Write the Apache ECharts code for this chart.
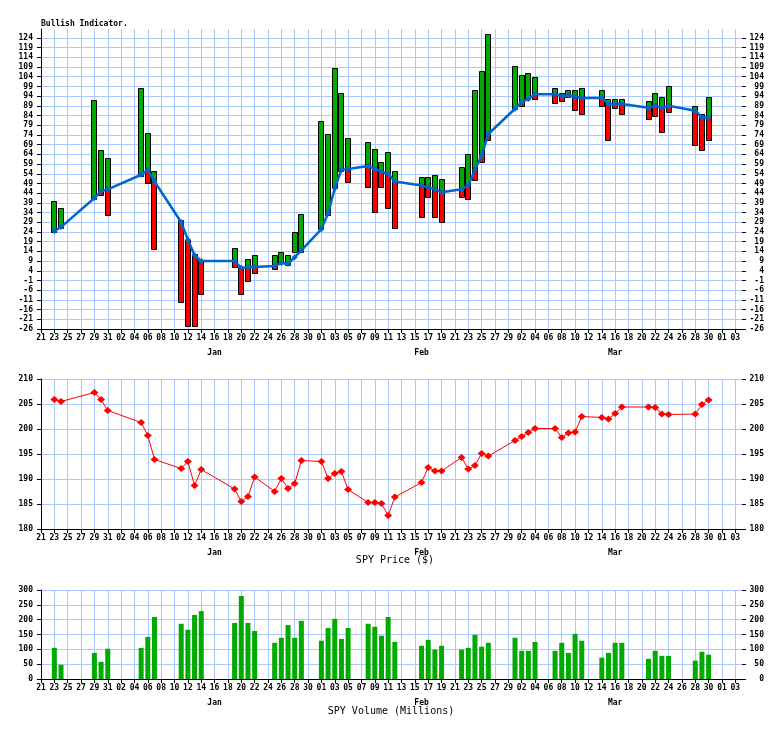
<!DOCTYPE html>
<html><head><meta charset="utf-8">
<script src="https://cdn.jsdelivr.net/npm/echarts@6/dist/echarts.min.js"></script>
<style>html,body{margin:0;padding:0;background:#fff}#c{width:784px;height:729px}</style>
</head><body><div id="c"></div>
<script>
// ---- data ----
const dates = [
 '2015-12-23','2015-12-24','2015-12-29','2015-12-30','2015-12-31',
 '2016-01-05','2016-01-06','2016-01-07','2016-01-11','2016-01-12','2016-01-13','2016-01-14',
 '2016-01-19','2016-01-20','2016-01-21','2016-01-22','2016-01-25','2016-01-26','2016-01-27','2016-01-28','2016-01-29',
 '2016-02-01','2016-02-02','2016-02-03','2016-02-04','2016-02-05','2016-02-08','2016-02-09','2016-02-10','2016-02-11','2016-02-12',
 '2016-02-16','2016-02-17','2016-02-18','2016-02-19','2016-02-22','2016-02-23','2016-02-24','2016-02-25','2016-02-26',
 '2016-03-01','2016-03-02','2016-03-03','2016-03-04','2016-03-07','2016-03-08','2016-03-09','2016-03-10','2016-03-11',
 '2016-03-14','2016-03-15','2016-03-16','2016-03-17','2016-03-21','2016-03-22','2016-03-23','2016-03-24',
 '2016-03-28','2016-03-29','2016-03-30'];
const bullHigh = [40,36.5,92,66,62, 98,75,55.5,30,20,12.5,9.3, 15.5,6,10,12,12,13.5,12,24,33.5,
 81,74.5,108.5,95.5,72.5,70.5,67,60,65,55.5, 52.5,52.5,53.5,51.5,57.5,64,97,107,126,
 109.5,105,106,104,98,95.5,97,97,98, 97,92.5,92.5,92.5,91.5,95.5,93.5,99, 89,85,93.5];
const bullLow = [24,26,41,43,32.5, 53,49,15,-12,-24.5,-24.5,-8, 6,-8,-1.5,3,5,8,7,13.5,13.5,
 25.5,32.5,46.5,55.5,50,47,34.5,47,36.5,26, 31.5,42,31.5,29,42,41,51,60,71.5,
 87.5,89,92.5,92.5,90.5,91.5,93.5,87,85, 89,71.5,88,85,82,84,75.5,86, 69,66,71.5];
const bullLine = [24.5,26.5,41.5,45,46, 53.5,56,50,29,20,12,9, 9,5.5,6,6,6.5,8,7.5,11,14.5,
 25.5,33.5,46.5,56,56.5,58,56.5,55,54,50, 48,47,46,44.5,46,48,56,63.5,74.5,
 87.5,91,92.5,95,95,94,94.5,93.5,93, 93,90,90,90,88,89,88,89, 86.5,83,83];
const spyPrice = [205.9,205.5,207.3,205.9,203.7, 201.3,198.7,193.9,192.1,193.5,188.7,191.9,
 188.0,185.5,186.5,190.4,187.5,190.1,188.1,189.1,193.7,
 193.5,190.1,191.1,191.5,187.9,185.3,185.3,185.1,182.7,186.4,
 189.3,192.3,191.6,191.6,194.3,192.0,192.7,195.1,194.6,
 197.7,198.5,199.3,200.1,200.1,198.3,199.2,199.4,202.5,
 202.3,202.0,203.1,204.4,204.4,204.3,203.0,202.9, 203.0,204.9,205.8];
const spyVolume = [105,48,88,58,102, 105,142,209,186,166,216,229, 189,280,189,162,122,139,182,139,196,
 129,172,203,135,172,186,176,146,209,125, 112,132,99,112,99,105,149,109,122,
 139,95,95,125,95,122,88,152,129, 72,88,122,122,68,95,78,78, 62,92,82];
const monthNames = ['Jan','Feb','Mar'];
const monthLabelDates = ['2016-01-16','2016-02-16','2016-03-16'];
const bullTicks = {min:-26, max:128.6, interval:5};
const priceTicks = {min:180, max:210, interval:5};
const volTicks = {min:0, max:300, interval:50};

// ---- helpers ----
const BASE = Date.UTC(2015, 11, 21);
const dayIndex = s => { const p = s.split('-').map(Number); return (Date.UTC(p[0], p[1]-1, p[2]) - BASE) / 86400000; };
const xs = dates.map(dayIndex);
const FONT = 'DejaVu Sans Mono';
const GRID = '#aac8ff';
const GREEN = '#00aa00', RED = '#ff0000', BLUE = '#0066cc';

function xLabel(v) {
  if (v > 104 || v % 2) return '';
  const d = new Date(BASE + v * 86400000);
  return String(d.getUTCDate()).padStart(2, '0');
}
function xAxis(gi) {
  return {
    type: 'value', gridIndex: gi, min: 0, max: 105, interval: 2,
    axisLine: {show: true, onZero: false, lineStyle: {color: '#000', width: 1}},
    axisTick: {show: true, length: 4, lineStyle: {color: '#000'}},
    axisLabel: {formatter: xLabel, fontFamily: FONT, fontSize: 8, fontWeight: 'bold', color: '#000', margin: 5, showMaxLabel: false, showMinLabel: true},
    splitLine: {show: true, showMaxLine: false, lineStyle: {color: GRID, width: 1}}
  };
}
function yAxis(gi, t, right, hideMax) {
  return {
    type: 'value', gridIndex: gi, position: right ? 'right' : 'left',
    min: t.min, max: t.max, interval: t.interval,
    axisLine: {show: !right, onZero: false, lineStyle: {color: '#000'}},
    axisTick: {show: true, length: 4, lineStyle: {color: '#000'}},
    axisLabel: {fontFamily: FONT, fontSize: 8, fontWeight: 'bold', color: '#000', margin: right ? 22 : 8, align: 'right',
      padding: [0, 0, 5, 0], showMinLabel: true, showMaxLabel: !hideMax},
    splitLine: {show: !right, showMaxLine: !hideMax, lineStyle: {color: GRID, width: 1}}
  };
}

const chart = echarts.init(document.getElementById('c'), null, {renderer: 'canvas'});
const option = {
  animation: false,
  backgroundColor: '#fff',
  grid: [
    {left: 41, right: 42, top: 29, height: 300},
    {left: 41, right: 42, top: 379, height: 150},
    {left: 41, right: 42, top: 590, height: 89}
  ],
  xAxis: [xAxis(0), xAxis(1), xAxis(2)],
  yAxis: [
    yAxis(0, bullTicks, false, true), yAxis(0, bullTicks, true, true),
    yAxis(1, priceTicks, false, false), yAxis(1, priceTicks, true, false),
    yAxis(2, volTicks, false, false), yAxis(2, volTicks, true, false)
  ],
  series: [
    {
      type: 'custom', xAxisIndex: 0, yAxisIndex: 0,
      encode: {x: 0, y: [1, 2, 3]},
      data: xs.map((x, i) => [x, bullLow[i], bullHigh[i], bullLine[i]]),
      renderItem: function (params, api) {
        const x = api.value(0), lo = api.value(1), hi = api.value(2), ln = api.value(3);
        const cx = api.coord([x, lo])[0];
        const yOf = v => Math.round(api.coord([x, v])[1]) + 0.5;
        const left = Math.round(cx - 3) + 0.5, w = 5;
        const ch = [];
        const redTop = Math.min(hi, ln);
        if (redTop > lo) ch.push({type: 'rect', shape: {x: left, y: yOf(redTop), width: w, height: yOf(lo) - yOf(redTop)},
          style: {fill: RED, stroke: '#000', lineWidth: 1}});
        const greenBot = Math.max(lo, ln);
        if (hi > greenBot) ch.push({type: 'rect', shape: {x: left, y: yOf(hi), width: w, height: yOf(greenBot) - yOf(hi)},
          style: {fill: GREEN, stroke: '#000', lineWidth: 1}});
        return {type: 'group', children: ch};
      },
      z: 2
    },
    {
      type: 'line', xAxisIndex: 0, yAxisIndex: 0,
      data: xs.map((x, i) => [x, bullLine[i]]),
      lineStyle: {color: BLUE, width: 2.5}, itemStyle: {color: BLUE},
      symbol: 'diamond', symbolSize: 6, showSymbol: true, z: 3
    },
    {
      type: 'line', xAxisIndex: 1, yAxisIndex: 2,
      data: xs.map((x, i) => [x, spyPrice[i]]),
      lineStyle: {color: RED, width: 1}, itemStyle: {color: RED},
      symbol: 'diamond', symbolSize: [8, 7], showSymbol: true
    },
    {
      type: 'bar', xAxisIndex: 2, yAxisIndex: 4,
      data: xs.map((x, i) => [x, spyVolume[i]]),
      barWidth: 5, itemStyle: {color: GREEN}
    }
  ]
};
chart.setOption(option);

const graphics = [
  {type: 'text', x: 41, y: 24, style: {text: 'Bullish Indicator.', font: 'bold 8px "DejaVu Sans Mono"', fill: '#000', align: 'left', textAlign: 'left', verticalAlign: 'middle', textVerticalAlign: 'middle'}},
  {type: 'text', x: 395, y: 560, style: {text: 'SPY Price ($)', font: '10px "DejaVu Sans Mono"', fill: '#000', align: 'center', textAlign: 'center', verticalAlign: 'middle', textVerticalAlign: 'middle'}},
  {type: 'text', x: 391, y: 711.5, style: {text: 'SPY Volume (Millions)', font: '10px "DejaVu Sans Mono"', fill: '#000', align: 'center', textAlign: 'center', verticalAlign: 'middle', textVerticalAlign: 'middle'}}
];
const mins = [bullTicks.min, priceTicks.min, volTicks.min];
[0, 1, 2].forEach(function (gi) {
  const yb = chart.convertToPixel({yAxisIndex: gi * 2}, mins[gi]);
  monthLabelDates.forEach(function (md, j) {
    const px = chart.convertToPixel({xAxisIndex: gi}, dayIndex(md));
    graphics.push({type: 'text', x: px, y: yb + 23.5, style: {text: monthNames[j], font: 'bold 8px "DejaVu Sans Mono"', fill: '#000',
      align: 'center', textAlign: 'center', verticalAlign: 'middle', textVerticalAlign: 'middle'}});
  });
});
chart.setOption({graphic: graphics});
</script>
</body></html>
